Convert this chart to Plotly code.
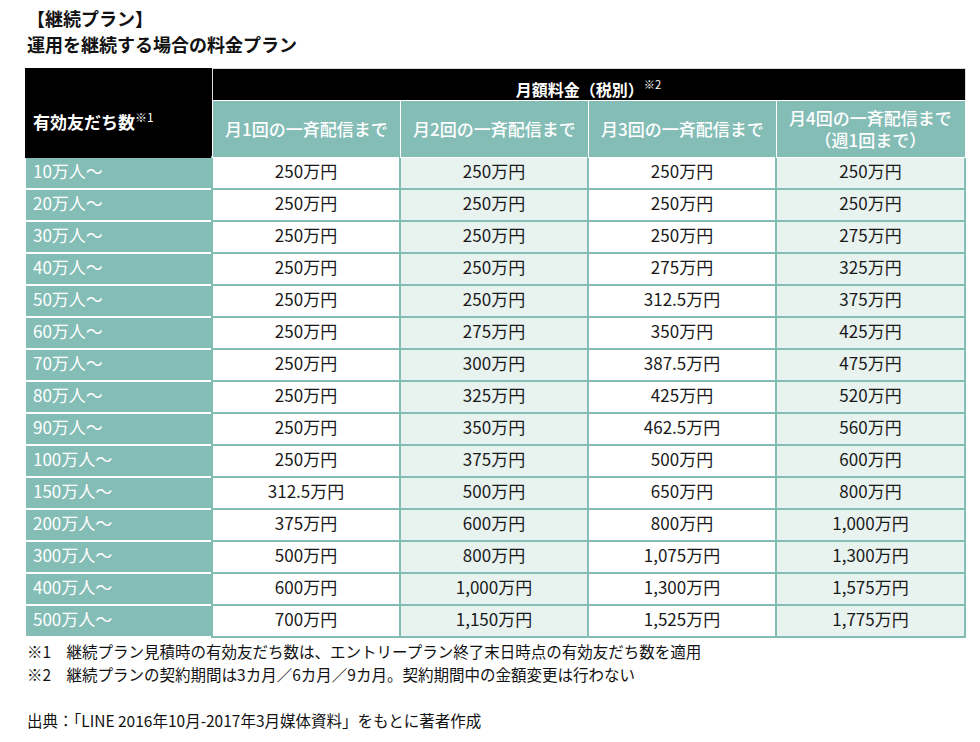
import plotly.graph_objects as go

# 有効友だち数ごとの継続プラン料金（万円）
rangos = ["10万人～", "20万人～", "30万人～", "40万人～", "50万人～", "60万人～", "70万人～",
          "80万人～", "90万人～", "100万人～", "150万人～", "200万人～", "300万人～",
          "400万人～", "500万人～"]
plan_1 = [250, 250, 250, 250, 250, 250, 250, 250, 250, 250, 312.5, 375, 500, 600, 700]
plan_2 = [250, 250, 250, 250, 250, 275, 300, 325, 350, 375, 500, 600, 800, 1000, 1150]
plan_3 = [250, 250, 250, 275, 312.5, 350, 387.5, 425, 462.5, 500, 650, 800, 1075, 1300, 1525]
plan_4 = [250, 250, 275, 325, 375, 425, 475, 520, 560, 600, 800, 1000, 1300, 1575, 1775]

columnas = ["月1回の一斉配信まで", "月2回の一斉配信まで", "月3回の一斉配信まで",
            "月4回の一斉配信まで<br>（週1回まで）"]
anchos = [187, 188, 188, 188, 189]

FONT = "Noto Sans CJK JP"
TEAL = "#84bdb6"
LIGHT = "#e8f2ef"
# la página tiene 8px de margen en el body
OFF = 8
W, H = 964, 726
X0 = 25


def px_x(x):
    return (x - OFF) / W


def px_y(y):
    return 1 - (y - OFF) / H


def yen(v):
    return f"{v:,g}万円"


fig = go.Figure()

# banda superior negra (las celdas quedan tapadas por la tabla principal)
fig.add_trace(go.Table(
    domain=dict(x=[px_x(X0), px_x(X0 + sum(anchos))], y=[px_y(157), px_y(68)]),
    columnwidth=[anchos[0], sum(anchos[1:])],
    header=dict(values=["", "<b>月額料金（税別）</b><sup>※2</sup>"],
                fill_color="black", line=dict(color=["black", "#dddddd"], width=1),
                font=dict(color="white", size=16, family=FONT), align="center", height=32),
    cells=dict(values=[[""], [""]], fill_color="white", line=dict(color="white", width=0),
               height=32),
))

# tabla principal
fig.add_trace(go.Table(
    domain=dict(x=[px_x(X0), px_x(X0 + sum(anchos))], y=[px_y(642), px_y(100)]),
    columnwidth=anchos,
    header=dict(values=["<b>有効友だち数</b><sup>※1</sup>", "", "", "", ""],
                fill_color=["black", TEAL, TEAL, TEAL, TEAL],
                line=dict(color=["black", "white", "white", "white", "white"], width=1),
                font=dict(color="white", size=17, family=FONT), align="left", height=57),
    cells=dict(values=[rangos, [yen(v) for v in plan_1], [yen(v) for v in plan_2],
                       [yen(v) for v in plan_3], [yen(v) for v in plan_4]],
               fill_color=[TEAL, "white", LIGHT, "white", LIGHT],
               line=dict(color=["white", TEAL, TEAL, TEAL, TEAL], width=2),
               font=dict(color=["white", "#1a1a1a", "#1a1a1a", "#1a1a1a", "#1a1a1a"],
                         size=17, family=FONT),
               align=["left", "center", "center", "center", "center"], height=32),
))

# títulos de columnas (sub-encabezado)
x = X0 + anchos[0]
for nombre, ancho in zip(columnas, anchos[1:]):
    fig.add_annotation(x=px_x(x + ancho / 2), y=px_y(128.5), xref="paper", yref="paper",
                       text=nombre, showarrow=False,
                       xanchor="center", yanchor="middle",
                       font=dict(color="white", size=17, family=FONT, weight=500))
    x += ancho

textos = [
    ("<b>【継続プラン】</b>", 18, 18),
    ("<b>運用を継続する場合の料金プラン</b>", 44, 18),
    ("※1　継続プラン見積時の有効友だち数は、エントリープラン終了末日時点の有効友だち数を適用", 651, 15.5),
    ("※2　継続プランの契約期間は3カ月／6カ月／9カ月。契約期間中の金額変更は行わない", 674, 15.5),
    ("出典：「LINE 2016年10月-2017年3月媒体資料」をもとに著者作成", 720, 15.5),
]
for t, y, s in textos:
    fig.add_annotation(x=px_x(X0), y=px_y(y), xref="paper", yref="paper", text=t,
                       showarrow=False, xanchor="left", yanchor="middle",
                       font=dict(color="#111111", size=s, family=FONT))

fig.update_layout(width=W, height=H, margin=dict(l=0, r=0, t=0, b=0),
                  paper_bgcolor="white", plot_bgcolor="white")

fig.write_html("out.html")
